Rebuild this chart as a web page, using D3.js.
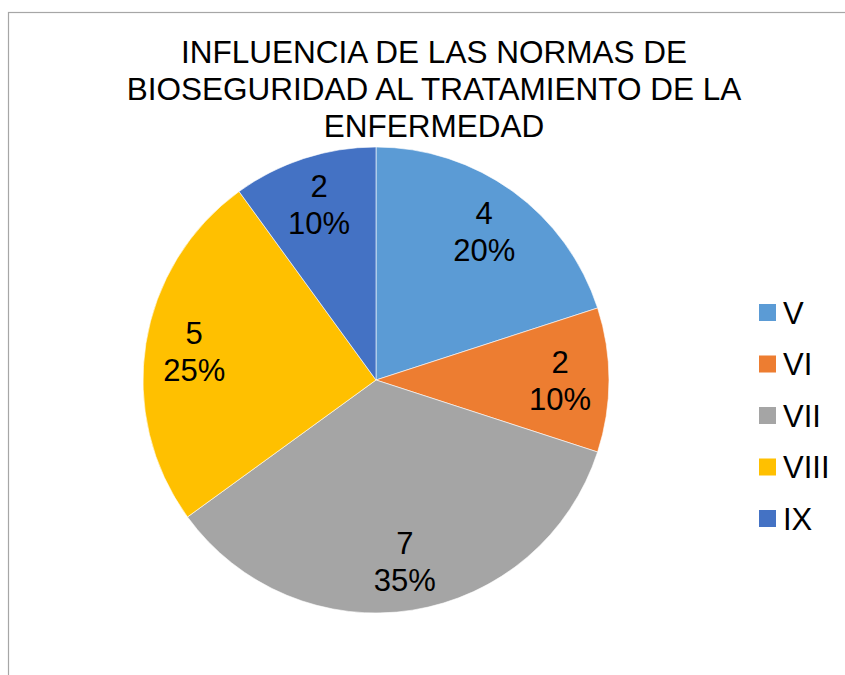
<!DOCTYPE html>
<html>
<head>
<meta charset="utf-8">
<script src="https://cdn.jsdelivr.net/npm/d3@7"></script>
<style>
  html, body { margin: 0; padding: 0; background: #fff; }
  #chart { width: 845px; height: 675px; }
</style>
</head>
<body>
<div id="chart"></div>
<script>
// data
const categories = ['V', 'VI', 'VII', 'VIII', 'IX'];
const values = [4, 2, 7, 5, 2];
const colors = ['#5B9BD5', '#ED7D31', '#A5A5A5', '#FFC000', '#4472C4'];
const titleLines = [
  'INFLUENCIA DE LAS NORMAS DE',
  'BIOSEGURIDAD AL TRATAMIENTO DE LA',
  'ENFERMEDAD'
];

const width = 845, height = 675;
const font = '"Liberation Sans", Arial, sans-serif';

const svg = d3.select('#chart')
  .append('svg')
  .attr('width', width)
  .attr('height', height)
  .attr('font-family', font);

// chart frame (runs off the right and bottom of the picture)
svg.append('rect')
  .attr('x', 8.5)
  .attr('y', 12.5)
  .attr('width', 860)
  .attr('height', 700)
  .attr('fill', '#fff')
  .attr('stroke', '#a6a6a6')
  .attr('stroke-width', 1.2);

// title
svg.append('g')
  .selectAll('text')
  .data(titleLines)
  .join('text')
  .attr('x', 434)
  .attr('y', (d, i) => 63 + i * 36.8)
  .attr('text-anchor', 'middle')
  .attr('font-size', 31.5)
  .attr('fill', '#000')
  .text(d => d);

// pie
const cx = 376, cy = 380, r = 233;
const total = d3.sum(values);
const color = d3.scaleOrdinal(categories, colors);
const data = categories.map((c, i) => ({ label: c, value: values[i] }));

const pie = d3.pie().value(d => d.value).sort(null);
const arc = d3.arc().innerRadius(0).outerRadius(r);
const labelArc = d3.arc().innerRadius(r * 0.79).outerRadius(r * 0.79);
const arcs = pie(data);

const g = svg.append('g').attr('transform', `translate(${cx},${cy})`);

g.selectAll('path')
  .data(arcs)
  .join('path')
  .attr('d', arc)
  .attr('fill', d => color(d.data.label))
  .attr('stroke', '#fff')
  .attr('stroke-width', 0.6);

const labels = g.selectAll('g.lbl')
  .data(arcs)
  .join('g')
  .attr('class', 'lbl')
  .attr('transform', d => `translate(${labelArc.centroid(d)})`)
  .attr('text-anchor', 'middle')
  .attr('font-size', 31)
  .attr('fill', '#000');

labels.append('text')
  .attr('y', -7.5)
  .text(d => d.data.value);

labels.append('text')
  .attr('y', 29.5)
  .text(d => d3.format('.0%')(d.data.value / total));

// legend
const legend = svg.append('g')
  .selectAll('g')
  .data(categories)
  .join('g')
  .attr('transform', (d, i) => `translate(759,${312.5 + i * 51.5})`);

legend.append('rect')
  .attr('x', 0)
  .attr('y', -8.5)
  .attr('width', 17)
  .attr('height', 17)
  .attr('fill', d => color(d));

legend.append('text')
  .attr('x', 24)
  .attr('y', 11)
  .attr('font-size', 31)
  .attr('fill', '#000')
  .text(d => d);
</script>
</body>
</html>
